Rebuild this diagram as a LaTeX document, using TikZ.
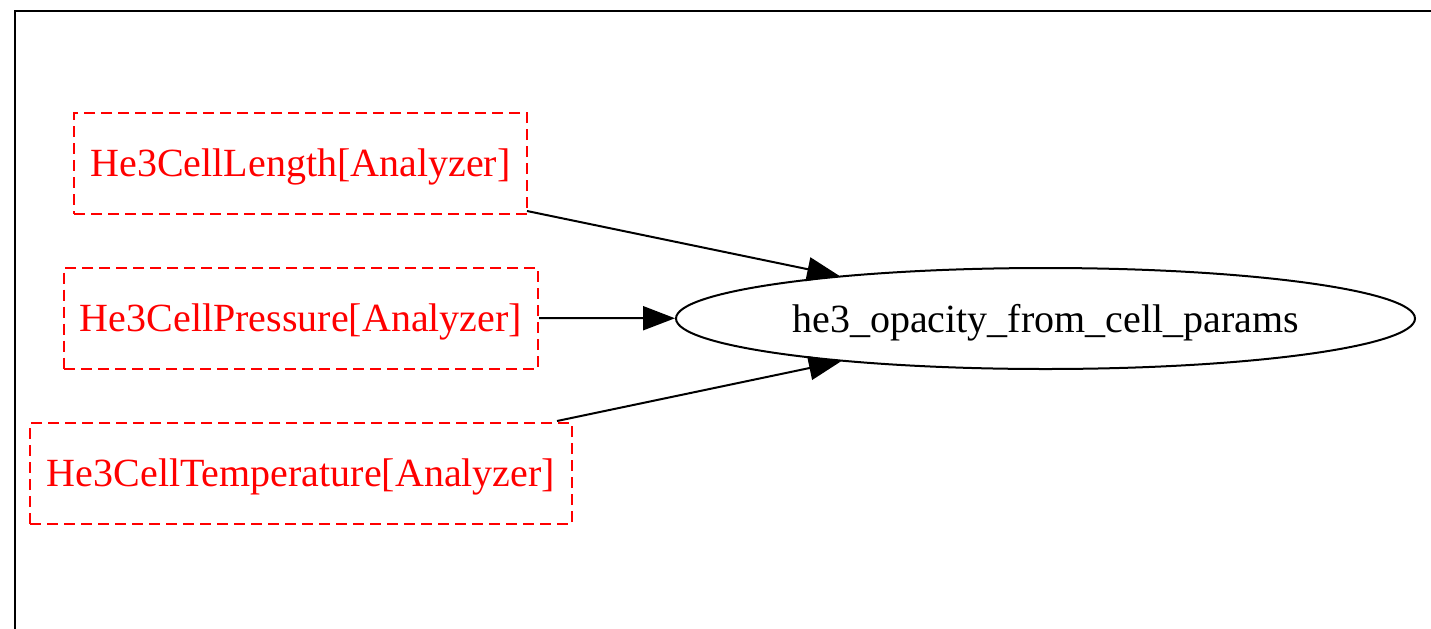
\documentclass[tikz,border=0pt]{standalone}
\usepackage{fontspec}
\setmainfont{Liberation Serif}
\usetikzlibrary{arrows.meta,shapes.geometric}
\begin{document}
\begin{tikzpicture}[x=0.5pt,y=-0.5pt,
  inbox/.style={draw=red,text=red,dashed,dash pattern=on 5.5pt off 3pt,line width=1pt,minimum height=50.5pt,inner sep=0pt,text height=13.2pt,text depth=0pt,font=\fontsize{20}{22}\selectfont},
  fnode/.style={draw,ellipse,line width=1pt,inner sep=0pt,minimum width=369.5pt,minimum height=50.5pt,text height=13.6pt,text depth=0pt,font=\fontsize{20}{22}\selectfont},
  edge/.style={line width=1pt,-{Triangle[length=16pt,width=12pt]}}]
\useasboundingbox (0,0) rectangle (1431,628);
\draw[line width=1pt] (1440,11) -- (15,11) -- (15,640);
\node[inbox,minimum width=226.5pt] (a) at (300.5,163.5) {He3CellLength[Analyzer]};
\node[inbox,minimum width=237pt] (b) at (301,318) {He3CellPressure[Analyzer]};
\node[inbox,minimum width=271pt] (c) at (301,473.5) {He3CellTemperature[Analyzer]};
\node[fnode] (f) at (1045.5,318.5) {he3\_opacity\_from\_cell\_params};
\draw[edge] (527,211) -- (f);
\draw[edge] (b) -- (f);
\draw[edge] (557,421) -- (f);
\end{tikzpicture}
\end{document}
